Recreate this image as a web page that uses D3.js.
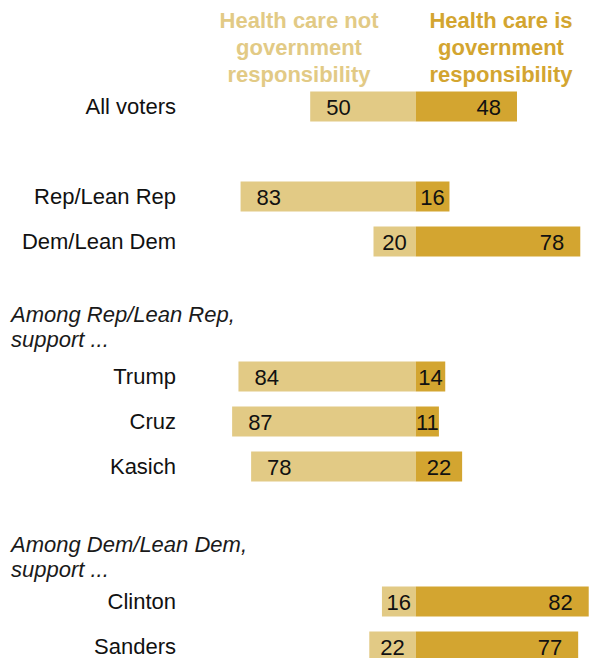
<!DOCTYPE html>
<html>
<head>
<meta charset="utf-8">
<script src="https://cdn.jsdelivr.net/npm/d3@7"></script>
<style>
  html, body { margin: 0; padding: 0; background: #fff; }
  svg { display: block; font-family: "Liberation Sans", Arial, sans-serif; }
</style>
</head>
<body>
<svg id="chart" width="591" height="658"></svg>
<script>
// ---- data ----
const categories = ["All voters", "Rep/Lean Rep", "Dem/Lean Dem", "Trump", "Cruz", "Kasich", "Clinton", "Sanders"];
const notResponsibility = [50, 83, 20, 84, 87, 78, 16, 22];
const isResponsibility  = [48, 16, 78, 14, 11, 22, 82, 77];
const rowSlots = [0, 2, 3, 6, 7, 8, 11, 12];
const groupHeaders = [
  ["Among Rep/Lean Rep,", "support ..."],
  ["Among Dem/Lean Dem,", "support ..."]
];
const headerSlots = [4.9, 10];
const seriesLabels = [
  ["Health care not", "government", "responsibility"],
  ["Health care is", "government", "responsibility"]
];
const colors = ["#E2CA85", "#D3A530"];

// ---- layout ----
const svg = d3.select("#chart");
const center = 415.7;
const x = d3.scaleLinear().domain([-100, 100]).range([center - 211, center + 211]);
const y = d3.scaleLinear().domain([0, 12]).range([106.5, 646.5]);
const barH = 30;

const rows = categories.map((c, i) => ({ cat: c, left: notResponsibility[i], right: isResponsibility[i], slot: rowSlots[i] }));

// column headers
seriesLabels.forEach((lines, k) => {
  const cx = k === 0 ? 299 : 501;
  const t = svg.append("text")
    .attr("text-anchor", "middle")
    .attr("font-weight", "bold")
    .attr("font-size", 22)
    .attr("fill", colors[k]);
  lines.forEach((ln, j) => {
    t.append("tspan").attr("x", cx).attr("y", 27.5 + j * 27).text(ln);
  });
});

// group headers
groupHeaders.forEach((lines, k) => {
  const t = svg.append("text")
    .attr("font-style", "italic")
    .attr("font-size", 22)
    .attr("fill", "#1a1a1a");
  lines.forEach((ln, j) => {
    t.append("tspan").attr("x", 11).attr("y", y(headerSlots[k]) - 4.8 + j * 25).text(ln);
  });
});

const g = svg.append("g");
const row = g.selectAll("g.row").data(rows).join("g").attr("class", "row");

// category labels
row.append("text")
  .attr("x", 176)
  .attr("y", d => y(d.slot) + 7.8)
  .attr("text-anchor", "end")
  .attr("font-size", 22)
  .attr("fill", "#111")
  .text(d => d.cat);

// left bars
row.append("rect")
  .attr("x", d => x(-d.left))
  .attr("y", d => y(d.slot) - barH / 2)
  .attr("width", d => x(0) - x(-d.left))
  .attr("height", barH)
  .attr("fill", colors[0]);

// right bars
row.append("rect")
  .attr("x", x(0))
  .attr("y", d => y(d.slot) - barH / 2)
  .attr("width", d => x(d.right) - x(0))
  .attr("height", barH)
  .attr("fill", colors[1]);

const small = 25;
// left value labels
row.append("text")
  .attr("x", d => d.left < small ? (x(-d.left) + x(0)) / 2 : x(-d.left) + 16)
  .attr("text-anchor", d => d.left < small ? "middle" : "start")
  .attr("y", d => y(d.slot) + 8)
  .attr("font-size", 22)
  .attr("fill", "#111")
  .text(d => d.left);

// right value labels
row.append("text")
  .attr("x", d => d.right < small ? (x(d.right) + x(0)) / 2 : x(d.right) - 16)
  .attr("text-anchor", d => d.right < small ? "middle" : "end")
  .attr("y", d => y(d.slot) + 8)
  .attr("font-size", 22)
  .attr("fill", "#111")
  .text(d => d.right);
</script>
</body>
</html>
